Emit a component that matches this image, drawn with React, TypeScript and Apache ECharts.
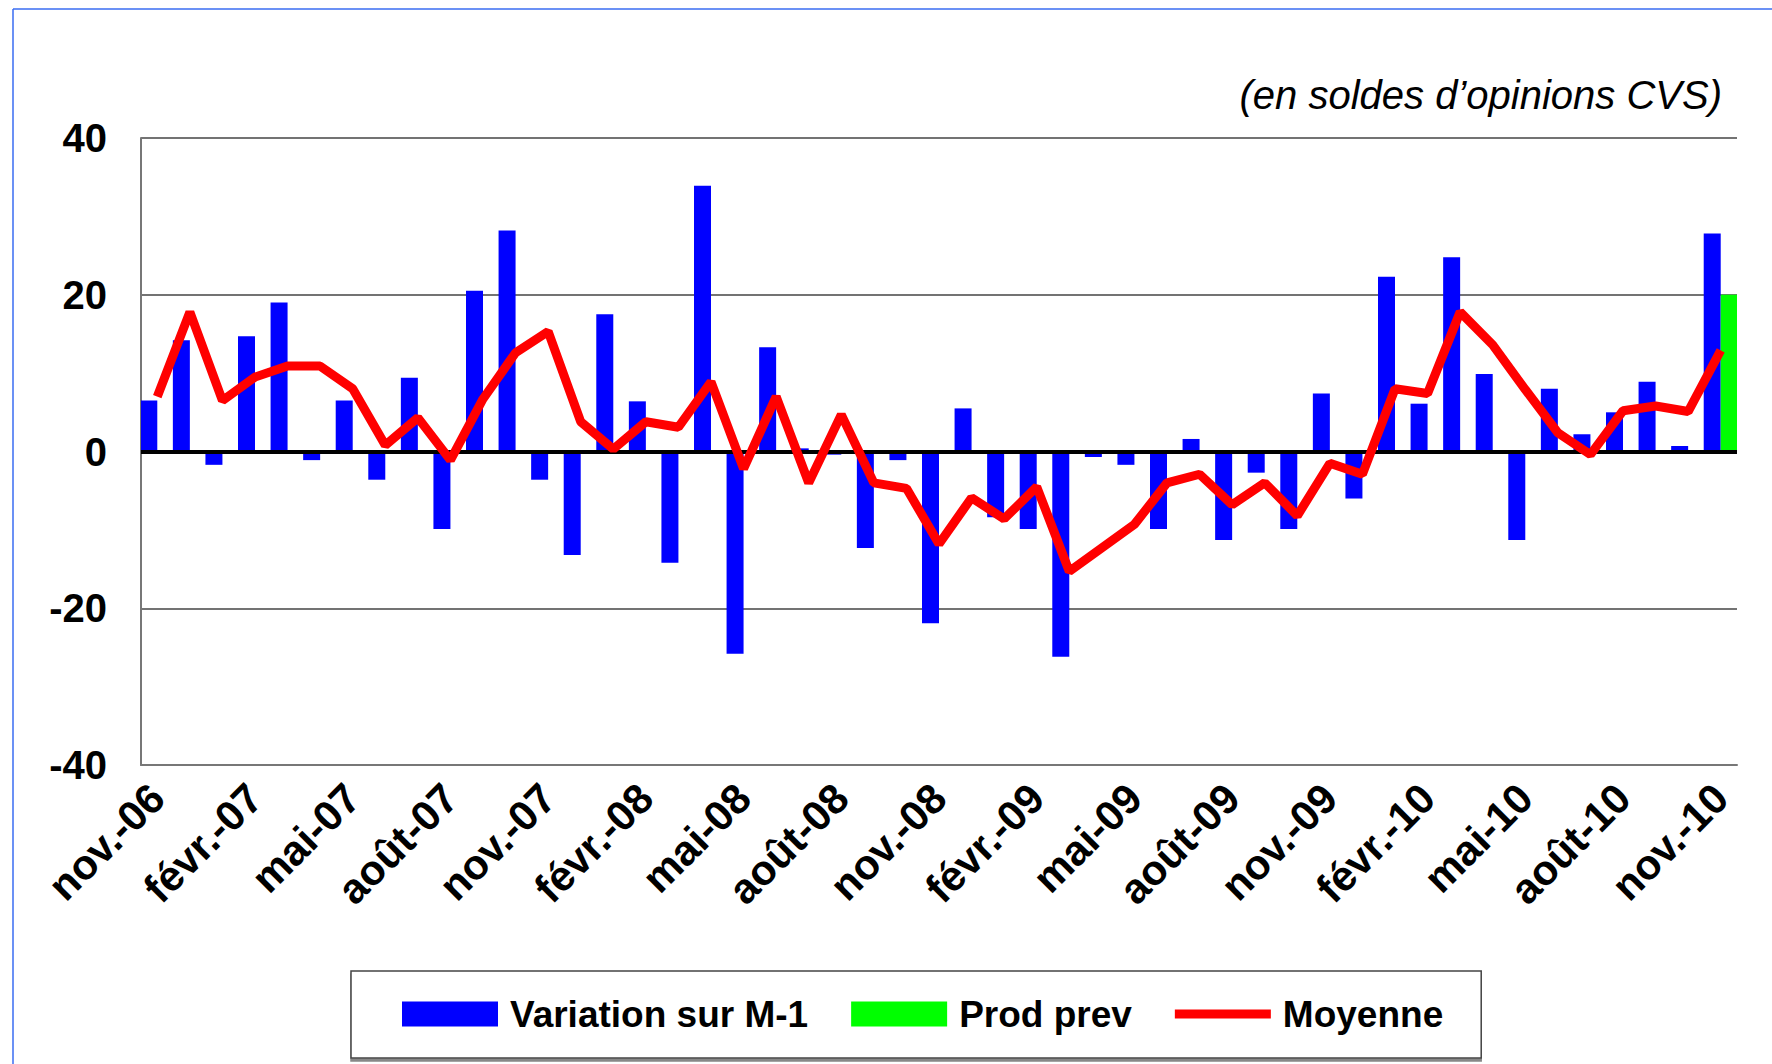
import React, { useEffect, useRef } from "react";
import * as echarts from "echarts";

const categories = [
  "nov.-06", "déc.-06",
  "janv.-07", "févr.-07", "mars-07", "avr.-07", "mai-07", "juin-07", "juil.-07", "août-07", "sept.-07", "oct.-07", "nov.-07", "déc.-07",
  "janv.-08", "févr.-08", "mars-08", "avr.-08", "mai-08", "juin-08", "juil.-08", "août-08", "sept.-08", "oct.-08", "nov.-08", "déc.-08",
  "janv.-09", "févr.-09", "mars-09", "avr.-09", "mai-09", "juin-09", "juil.-09", "août-09", "sept.-09", "oct.-09", "nov.-09", "déc.-09",
  "janv.-10", "févr.-10", "mars-10", "avr.-10", "mai-10", "juin-10", "juil.-10", "août-10", "sept.-10", "oct.-10", "nov.-10",
];

const variationM1 = [
  6.5, 14.2, -1.7, 14.7, 19.0, -1.1, 6.5, -3.6, 9.4, -9.9, 20.5, 28.2, -3.6,
  -13.2, 17.5, 6.4, -14.2, 33.9, -25.8, 13.3, 0.4, -0.4, -12.3, -1.1, -21.9, 5.5,
  -8.4, -9.9, -26.2, -0.7, -1.7, -9.9, 1.6, -11.3, -2.7, -9.9, 7.4, -6.0,
  22.3, 6.1, 24.8, 9.9, -11.3, 8.0, 2.2, 5.0, 8.9, 0.7, 27.8,
];

const prodPrev = [
  null, null, null, null, null, null, null, null, null, null, null, null, null,
  null, null, null, null, null, null, null, null, null, null, null, null, null,
  null, null, null, null, null, null, null, null, null, null, null, null,
  null, null, null, null, null, null, null, null, null, null, 20,
];

const moyenne = [
  7.0, 17.8, 6.5, 9.5, 10.9, 10.9, 8.0, 0.8, 4.3, -1.1, 6.7, 12.6, 15.3,
  3.8, 0.3, 3.8, 3.1, 8.9, -2.2, 7.0, -4.0, 4.7, -4.0, -4.7, -11.8, -5.9,
  -8.6, -4.5, -15.3, -12.3, -9.3, -4.0, -2.9, -6.8, -4.0, -8.2, -1.5, -2.9,
  8.0, 7.4, 17.8, 13.6, 7.9, 2.4, -0.4, 5.2, 5.8, 5.1, 12.9,
];

const yTicks = [-40, -20, 0, 20, 40];
const unitNote = "(en soldes d’opinions CVS)";

const FONT = "'Liberation Sans', Arial, sans-serif";
// thin horizontal bar inside a 96x25 box, used as the legend icon for the line
const LINE_ICON = "path://M0,0 M96,25 M0,8 L96,8 L96,17 L0,17 Z";

export default function App() {
  const ref = useRef<HTMLDivElement>(null);

  useEffect(() => {
    if (!ref.current) return;
    const chart = echarts.init(ref.current, null, { renderer: "svg" });
    chart.setOption({
      animation: false,
      backgroundColor: "#ffffff",
      textStyle: { fontFamily: FONT },
      title: {
        text: unitNote,
        right: 45,
        top: 70,
        textStyle: {
          fontFamily: FONT,
          fontStyle: "italic",
          fontWeight: "normal",
          fontSize: 40,
          color: "#000",
        },
      },
      graphic: [
        { type: "line", shape: { x1: 13, y1: 9, x2: 1772, y2: 9 }, style: { stroke: "#3a6cf2", lineWidth: 1.5 } },
        { type: "line", shape: { x1: 13, y1: 9, x2: 13, y2: 1064 }, style: { stroke: "#3a6cf2", lineWidth: 1.5 } },
      ],
      grid: { left: 141, right: 35, top: 138, bottom: 299, containLabel: false },
      legend: {
        left: 351,
        top: 971,
        padding: [17, 38, 18, 51],
        itemWidth: 96,
        itemHeight: 25,
        itemGap: 43,
        borderColor: "#444",
        borderWidth: 1.5,
        backgroundColor: "#fff",
        shadowColor: "#888",
        shadowOffsetY: 3,
        shadowOffsetX: 0,
        shadowBlur: 0,
        textStyle: {
          fontFamily: FONT,
          fontWeight: "bold",
          fontSize: 37,
          lineHeight: 52,
          color: "#000",
          padding: [0, 0, 0, 7],
        },
        data: [
          { name: "Variation sur M-1", icon: "rect" },
          { name: "Prod prev", icon: "rect" },
          { name: "Moyenne", icon: LINE_ICON },
        ],
      },
      xAxis: {
        type: "category",
        data: categories,
        axisLine: { onZero: false, lineStyle: { color: "#777", width: 2 } },
        axisTick: { show: false },
        axisLabel: {
          interval: 2,
          rotate: 45,
          margin: 26,
          fontFamily: FONT,
          fontWeight: "bold",
          fontSize: 42,
          color: "#000",
        },
      },
      yAxis: {
        type: "value",
        min: yTicks[0],
        max: yTicks[yTicks.length - 1],
        interval: 20,
        axisLine: { show: true, lineStyle: { color: "#777", width: 2 } },
        axisTick: { show: false },
        splitLine: { show: true, lineStyle: { color: "#444", width: 1.5 } },
        axisLabel: {
          margin: 34,
          fontFamily: FONT,
          fontWeight: "bold",
          fontSize: 40,
          color: "#000",
        },
      },
      series: [
        {
          name: "Variation sur M-1",
          type: "bar",
          data: variationM1,
          barWidth: 17,
          barGap: "0%",
          itemStyle: { color: "#0000ff" },
          z: 2,
          markLine: {
            silent: true,
            symbol: ["none", "none"],
            label: { show: false },
            lineStyle: { color: "#000", width: 4, type: "solid" },
            data: [{ yAxis: 0 }],
          },
        },
        {
          name: "Prod prev",
          type: "bar",
          data: prodPrev,
          barWidth: 17,
          barGap: "0%",
          itemStyle: { color: "#00ff00" },
          z: 2,
        },
        {
          name: "Moyenne",
          type: "line",
          data: moyenne,
          symbol: "none",
          lineStyle: { color: "#ff0000", width: 9 },
          itemStyle: { color: "#ff0000" },
          z: 5,
        },
      ],
    });
    return () => chart.dispose();
  }, []);

  return (
    <div
      ref={ref}
      style={{ position: "fixed", left: 0, top: 0, width: 1772, height: 1064 }}
    />
  );
}
